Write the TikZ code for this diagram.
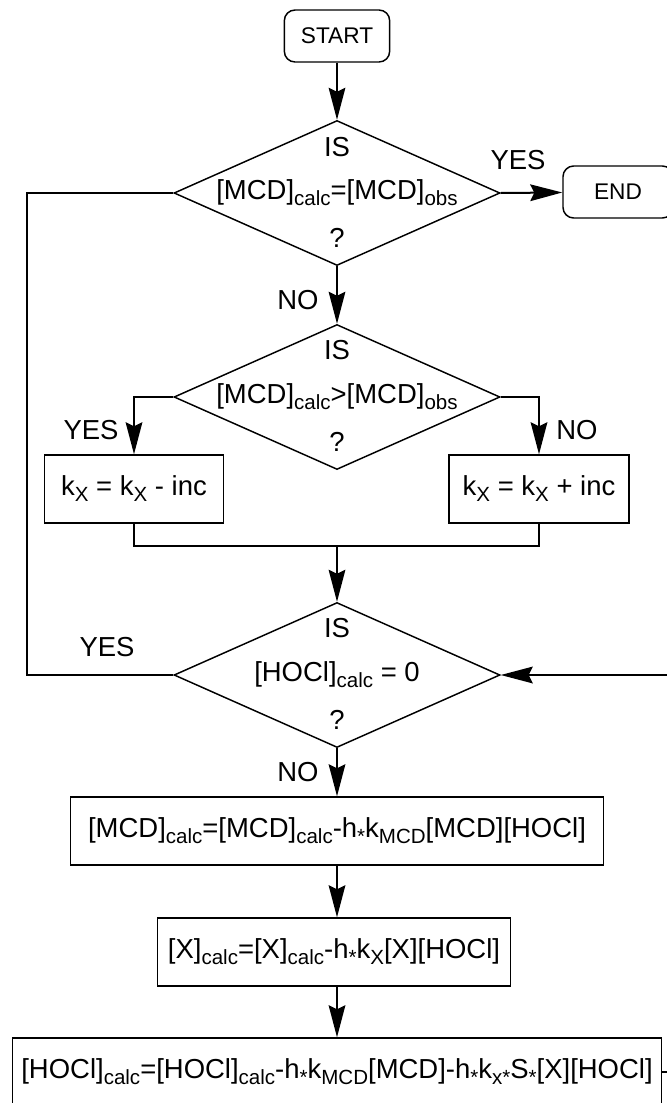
\documentclass[tikz,border=0pt]{standalone}
\usepackage{fontspec}
\setmainfont{Liberation Sans}
\usetikzlibrary{shapes.geometric, arrows.meta}

\newcommand{\subt}[1]{\raisebox{-0.22em}{\fontsize{15.4}{16}\selectfont #1}}

\begin{document}
\begin{tikzpicture}[x=0.75pt, y=-0.75pt,
    every node/.append style={font=\fontsize{20.6}{24}\selectfont},
    term/.style={rectangle, rounded corners=8pt, draw, line width=1.1pt,
        font=\fontsize{17}{18}\selectfont, minimum width=79pt, minimum height=39pt},
    test/.style={diamond, draw, line width=1.1pt, aspect=2.25, inner sep=0pt,
        minimum width=244.5pt, minimum height=108.75pt},
    proc/.style={rectangle, draw, line width=1.1pt, minimum height=51pt},
    flow/.style={-{Stealth[length=24pt, width=12.5pt, inset=3pt]}, line width=1.5pt},
    link/.style={line width=1.1pt}]

        \useasboundingbox (0,0) rectangle (667,1103);

        % Nodes
        \node (start) [term] at (337,36) {START};
        \node (end) [term, minimum width=82.5pt] at (618,192) {END};

        \node (d1) [test] at (337,193) {[MCD]\subt{calc}=[MCD]\subt{obs}};
        \node (d1is) at (337,147) {IS};
        \node (d1q) at (337,238) {?};

        \node (d2) [test] at (337,397) {[MCD]\subt{calc}>[MCD]\subt{obs}};
        \node (d2is) at (337,350) {IS};
        \node (d2q) at (337,442) {?};

        \node (kdown) [proc, minimum width=134pt] at (134,489) {k\subt{X} = k\subt{X} - inc};
        \node (kup) [proc, minimum width=135pt] at (539,489) {k\subt{X} = k\subt{X} + inc};

        \node (d3) [test] at (337,675) {[HOCl]\subt{calc} = 0};
        \node (d3is) at (337,628) {IS};
        \node (d3q) at (337,720) {?};

        \node (updmcd) [proc, minimum width=400pt] at (337,831)
            {[MCD]\subt{calc}=[MCD]\subt{calc}-h\subt{*}k\subt{MCD}[MCD][HOCl]};
        \node (updx) [proc, minimum width=265pt] at (334,952)
            {[X]\subt{calc}=[X]\subt{calc}-h\subt{*}k\subt{X}[X][HOCl]};
        \node (updhocl) [proc, minimum width=487pt] at (337,1072)
            {[HOCl]\subt{calc}=[HOCl]\subt{calc}-h\subt{*}k\subt{MCD}[MCD]-h\subt{*}k\subt{x*}S\subt{*}[X][HOCl]};

        \coordinate (merge) at (337,546);
        \coordinate (loopl) at (27,675);
        \coordinate (loopr) at (700,675);

        % Edges
        \draw[flow] (start) -- (d1);
        \draw[flow] (d1.east) -- (end);
        \draw[flow] (d1) -- (d2);
        \draw[flow] (d2.west) -| (kdown.north);
        \draw[flow] (d2.east) -| (kup.north);
        \draw[link] (kdown.south) |- (merge) -| (kup.south);
        \draw[flow] (merge) -- (d3.north);
        \draw[link] (d3.west) -- (loopl) |- (d1.west);
        \draw[flow] (d3) -- (updmcd);
        \draw[flow] (updmcd.south) -- (updmcd.south |- updx.north);
        \draw[flow] (updx.south -| updmcd.south) -- (updhocl.north -| updmcd.south);
        \draw[flow] (updhocl.east) -| (loopr) -- (d3.east);

        % Branch labels
        \node (yes1) at (518,160) {YES};
        \node (no1) at (298,300) {NO};
        \node (yes2) at (91,430) {YES};
        \node (no2) at (577,430) {NO};
        \node (yes3) at (107,647) {YES};
        \node (no3) at (298,772) {NO};

\end{tikzpicture}
\end{document}
